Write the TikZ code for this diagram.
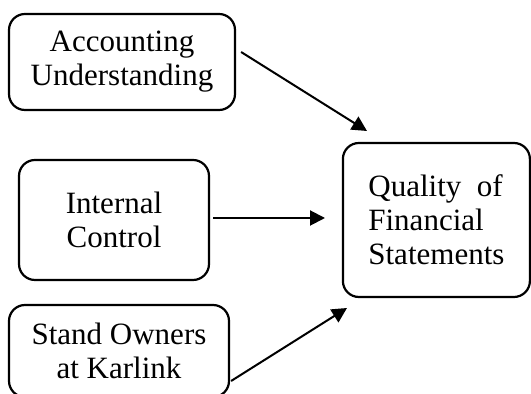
\documentclass[tikz,border=0pt]{standalone}
\usepackage{fontspec}
\setmainfont{Liberation Serif}
\usetikzlibrary{arrows.meta, positioning}

\begin{document}
\begin{tikzpicture}[
    x=0.5pt, y=-0.5pt, % one unit per pixel, y pointing down
    factor/.style={draw, black, line width=1.1pt, rounded corners=8pt,
        align=center, inner sep=0pt,
        font=\fontsize{15.5pt}{17pt}\selectfont},
    link/.style={-{Triangle[length=7.5pt, width=7.5pt]}, black, line width=1pt}
]

% Canvas
\useasboundingbox (0,0) rectangle (531,394);

% Factor boxes
\node[factor, minimum width=113pt, minimum height=48pt] (acct) at (122,62) {Accounting\\Understanding};
\node[factor, minimum width=95pt, minimum height=60pt] (ctrl) at (114,220) {Internal\\Control};
\node[factor, minimum width=110pt, minimum height=46pt] (owners) at (119,351) {Stand Owners\\at Karlink};

% Outcome box
\node[factor, align=left, minimum width=93.5pt, minimum height=77pt] (quality) at (436.4,220) {Quality\enspace{}of\\Financial\\Statements};

% Arrow tips stop short of the outcome box
\coordinate (tipA) at (367,131);
\coordinate (tipB) at (325,218);
\coordinate (tipC) at (347,308);

% Arrows
\draw[link] ([xshift=2.5pt, yshift=5pt]acct.east) -- (tipA);
\draw[link] ([xshift=1.5pt, yshift=1pt]ctrl.east) -- (tipB);
\draw[link] ([xshift=0.5pt, yshift=-15pt]owners.east) -- (tipC);

\end{tikzpicture}
\end{document}
